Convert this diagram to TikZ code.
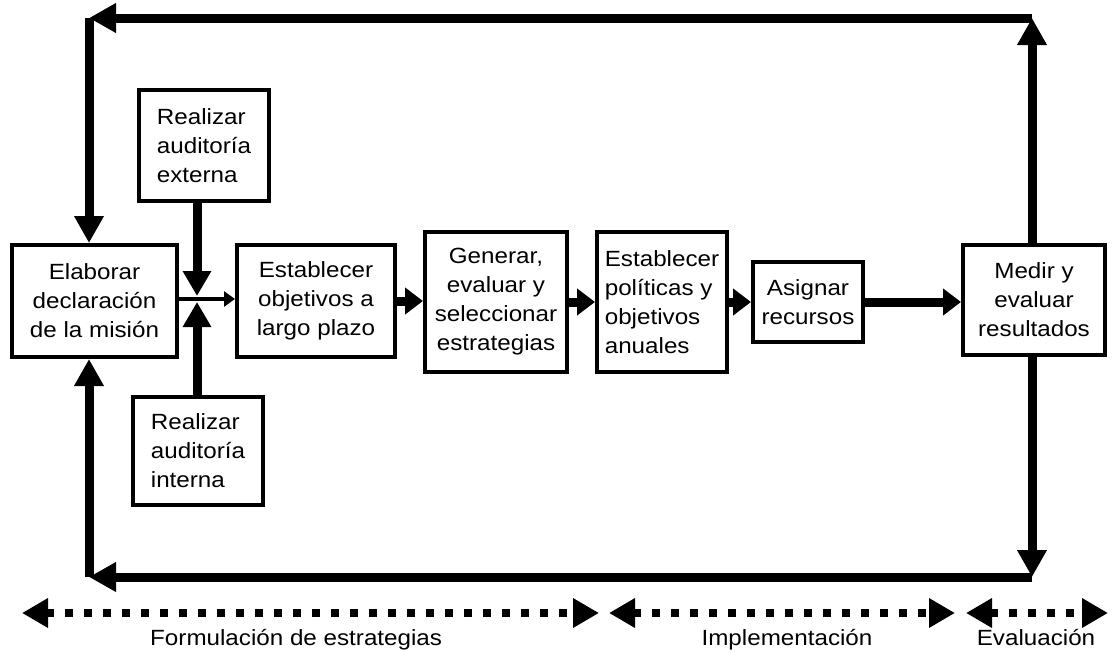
\documentclass[tikz,border=0pt]{standalone}
\usepackage{fontspec}
\setmainfont{Liberation Sans}[FakeStretch=1.1]
\usetikzlibrary{arrows.meta}
\tikzset{
  box/.style={draw, line width=4pt, inner sep=0pt, align=center, font=\fontsize{22}{29}\selectfont},
  fb/.style={line width=9pt, -{Triangle[length=27pt,width=28pt]}},
  flow/.style={line width=9pt, -{Triangle[length=18pt,width=26pt]}},
  thinarrow/.style={line width=4pt, -{Triangle[length=11pt,width=15pt]}},
  phase/.style={line width=7.5pt, dash pattern=on 7.5pt off 11.5pt, {Triangle[length=26pt,width=28pt]}-{Triangle[length=26pt,width=28pt]}},
  lab/.style={font=\fontsize{22}{29}\selectfont, inner sep=0pt}
}
\begin{document}
\begin{tikzpicture}[x=1pt,y=-1pt]
\useasboundingbox (0,0) rectangle (1112,653);
% boxes
\node[box, minimum width=165pt, minimum height=112pt] (mission) at (94.5,301) {Elaborar\\declaración\\de la misión};
\node[box, align=left, minimum width=130pt, minimum height=111pt] (ext) at (204,145.5) {Realizar\\auditoría\\externa};
\node[box, align=left, minimum width=130pt, minimum height=108pt] (int) at (198,451) {Realizar\\auditoría\\interna};
\node[box, minimum width=158pt, minimum height=112pt] (estobj) at (316,301) {Establecer\\objetivos a\\largo plazo};
\node[box, minimum width=142pt, minimum height=140pt] (gen) at (496,302) {Generar,\\evaluar y\\seleccionar\\estrategias};
\node[box, align=left, minimum width=130pt, minimum height=140pt] (pol) at (662,302) {Establecer\\políticas y\\objetivos\\anuales};
\node[box, minimum width=110pt, minimum height=80pt] (asig) at (808,302) {Asignar\\recursos};
\node[box, minimum width=142pt, minimum height=110pt] (medir) at (1034,300) {Medir y\\evaluar\\resultados};
% corner coordinates
\coordinate (TL) at (89,18);
\coordinate (TR) at (1032,18);
\coordinate (BL) at (89,577);
\coordinate (BR) at (1032,577);
\coordinate (J) at (197,299);
\coordinate (Jt) at (197,296);
\coordinate (Jb) at (197,302);
% feedback loops
\draw[fb] (TR |- medir.north) -- (TR);
\draw[fb] (TR) -- (TL);
\draw[fb] (TL) -- (TL |- mission.north);
\draw[fb] (BR |- medir.south) -- (BR);
\draw[fb] (BR) -- (BL);
\draw[fb] (BL) -- (BL |- mission.south);
% audits
\draw[line width=9pt, -{Triangle[length=25pt,width=27pt]}] (Jt |- ext.south) -- (Jt);
\draw[line width=9pt, -{Triangle[length=25pt,width=27pt]}] (Jb |- int.north) -- (Jb);
\draw[thinarrow] (mission.east |- J) -- (estobj.west |- J);
% main flow
\draw[flow] (estobj.east) -- (gen.west |- estobj.east);
\draw[flow] (gen.east) -- (pol.west);
\draw[flow] (pol.east) -- (asig.west);
\draw[flow] (asig.east) -- (medir.west |- asig.east);
% phases
\coordinate (F1) at (22,613); \coordinate (F2) at (599,613);
\coordinate (I1) at (609,613); \coordinate (I2) at (955,613);
\coordinate (E1) at (966,613); \coordinate (E2) at (1108,613);
\draw[phase] (F1) -- (F2);
\draw[phase] (I1) -- (I2);
\draw[phase] (E1) -- (E2);
\node[lab, anchor=base west] (lf) at (150,645) {Formulación de estrategias};
\node[lab, anchor=base] (li) at (787,645) {Implementación};
\node[lab, anchor=base] (le) at (1036,645) {Evaluación};
\end{tikzpicture}
\end{document}
